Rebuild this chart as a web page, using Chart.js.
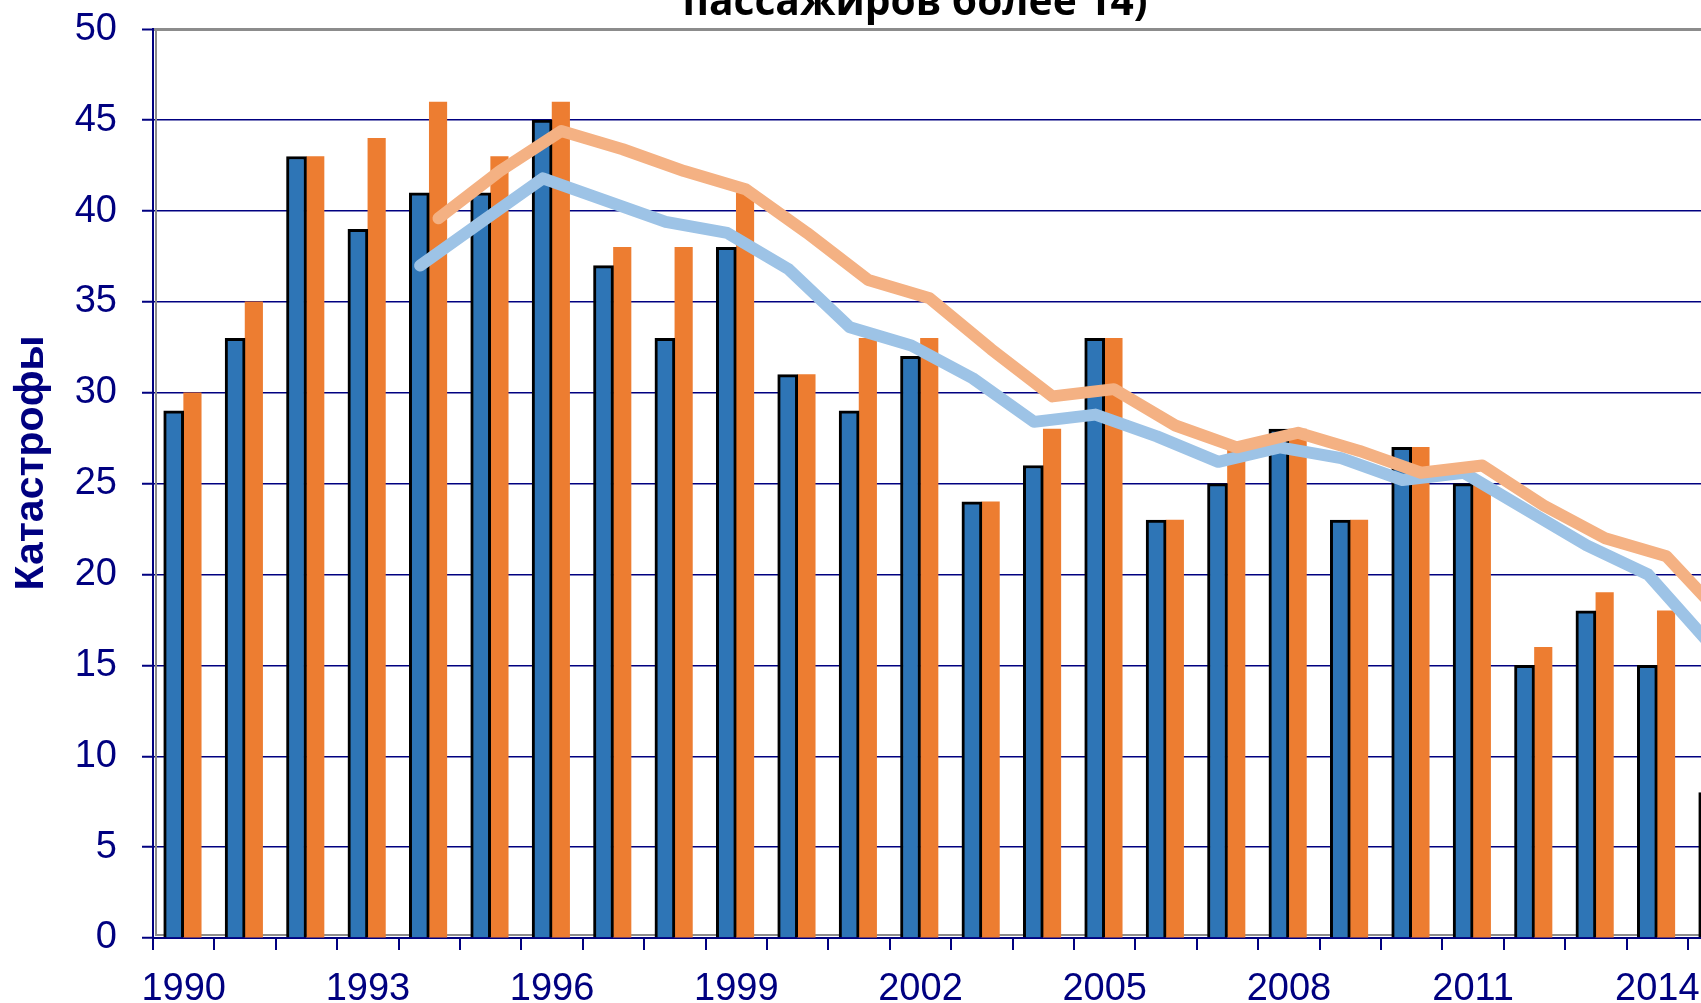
<!DOCTYPE html>
<html>
<head>
<meta charset="utf-8">
<script src="https://cdn.jsdelivr.net/npm/chart.js@4.4.1/dist/chart.umd.min.js"></script>
<style>
html,body{margin:0;padding:0;overflow:hidden;background:#ffffff;width:1701px;height:1003px;}
#wrap{position:absolute;left:0;top:0;width:1760px;height:1003px;}
</style>
</head>
<body>
<div id="wrap"><canvas id="c" width="1760" height="1003"></canvas></div>
<script>
// ---- data ----
const years = ['1990','1991','1992','1993','1994','1995','1996','1997','1998','1999','2000','2001','2002',
               '2003','2004','2005','2006','2007','2008','2009','2010','2011','2012','2013','2014','2015'];
const shownYearLabels = ['1990','1993','1996','1999','2002','2005','2008','2011','2014'];
const yTicks = [0,5,10,15,20,25,30,35,40,45,50];

const crashesBlue   = [29,33,43,39,41,41,45,37,33,38,31,29,32,24,26,33,23,25,28,23,27,25,15,18,15,8];
const crashesOrange = [30,35,43,44,46,43,46,38,38,41,31,33,33,24,28,33,23,27,28,23,27,25,16,19,18,null];

const avgBlue   = [null,null,null,null,37.0,39.4,41.8,40.6,39.4,38.8,36.8,33.6,32.6,30.8,28.4,28.8,27.6,26.2,27.0,26.4,25.2,25.6,23.6,21.6,20.0,16.2];
const avgOrange = [null,null,null,null,39.6,42.2,44.4,43.4,42.2,41.2,38.8,36.2,35.2,32.4,29.8,30.2,28.2,27.0,27.8,26.8,25.6,26.0,23.8,22.0,21.0,17.4];

const chartTitle = 'пассажиров более 14)';
const yAxisTitle = 'Катастрофы';

// ---- styles ----
const NAVY = '#000080';
const GRAY = '#8c8c8c';
const BLUE = '#2E75B6';
const ORANGE = '#ED7D31';
const LBLUE = '#9DC3E6';
const LORANGE = '#F4B183';
const SHIFT = 0.15; // line points sit on the centres of their own bars

function linePoints(vals, dir) {
  const pts = [];
  vals.forEach((v, i) => { if (v !== null) pts.push({x: i + dir * SHIFT, y: v}); });
  return pts;
}

const deco = {
  id: 'deco',
  beforeDatasetsDraw(chart) {
    const {ctx, chartArea: a} = chart;
    ctx.save();
    ctx.strokeStyle = GRAY;
    ctx.lineWidth = 2;
    ctx.beginPath();
    ctx.moveTo(a.left + 3, a.top);
    ctx.lineTo(a.left + 3, a.bottom - 3);
    ctx.lineTo(a.right, a.bottom - 3);
    ctx.stroke();
    ctx.restore();
  },
  afterDraw(chart) {
    const {ctx} = chart;
    ctx.save();
    // main title (only its last line is in view)
    let size = 40;
    ctx.font = 'bold ' + size + 'px "Open Sans", "Noto Sans", sans-serif';
    const w = ctx.measureText(chartTitle).width;
    size = size * 465 / w;
    ctx.font = 'bold ' + size.toFixed(1) + 'px "Open Sans", "Noto Sans", sans-serif';
    ctx.fillStyle = '#000000';
    ctx.textAlign = 'center';
    ctx.textBaseline = 'alphabetic';
    ctx.fillText(chartTitle, 915, 15);
    // y axis title
    ctx.translate(32, 463);
    ctx.rotate(-Math.PI / 2);
    ctx.font = 'bold 41px "Liberation Sans", Arial, sans-serif';
    ctx.fillStyle = NAVY;
    ctx.textAlign = 'center';
    ctx.textBaseline = 'middle';
    ctx.fillText(yAxisTitle, 0, 0);
    ctx.restore();
  }
};

new Chart(document.getElementById('c'), {
  type: 'bar',
  plugins: [deco],
  data: {
    labels: years,
    datasets: [
      {type: 'line', label: 'avgOrange', data: linePoints(avgOrange, 1), xAxisID: 'xl',
       borderColor: LORANGE, borderWidth: 12, pointRadius: 0, tension: 0,
       borderCapStyle: 'round', borderJoinStyle: 'round', order: 0},
      {type: 'line', label: 'avgBlue', data: linePoints(avgBlue, -1), xAxisID: 'xl',
       borderColor: LBLUE, borderWidth: 12, pointRadius: 0, tension: 0,
       borderCapStyle: 'round', borderJoinStyle: 'round', order: 1},
      {label: 'blue', data: crashesBlue, backgroundColor: BLUE, borderColor: '#000000', borderWidth: 3,
       barThickness: 20, order: 3},
      {label: 'orange', data: crashesOrange, backgroundColor: ORANGE, borderWidth: 0,
       barThickness: 17.5, order: 3}
    ]
  },
  options: {
    responsive: false,
    animation: false,
    devicePixelRatio: 1,
    layout: {padding: {top: 29.3, right: 10.6, left: 0, bottom: 0}},
    plugins: {legend: {display: false}, tooltip: {enabled: false}, title: {display: false}},
    scales: {
      x: {
        type: 'category',
        offset: true,
        grid: {display: true, drawOnChartArea: false, drawTicks: true, tickLength: 12, color: NAVY, lineWidth: 2, offset: true},
        border: {display: true, color: NAVY, width: 2},
        ticks: {
          autoSkip: false, maxRotation: 0, minRotation: 0, padding: 17, color: NAVY,
          font: {family: '"Liberation Sans", Arial, sans-serif', size: 38},
          callback: function(v, i) { const l = years[i]; return shownYearLabels.includes(l) ? l : ''; }
        },
        afterFit(s) { s.height = 65; }
      },
      xl: {type: 'linear', display: false, min: -0.5, max: years.length - 0.5, offset: false},
      y: {
        min: 0, max: 50,
        afterBuildTicks(s) { s.ticks = yTicks.map(v => ({value: v})); },
        ticks: {padding: 25, color: NAVY, font: {family: '"Liberation Sans", Arial, sans-serif', size: 38}},
        grid: {
          color: c => (c.tick && c.tick.value === 50) ? GRAY : NAVY,
          lineWidth: c => (c.tick && c.tick.value === 50) ? 3 : 1.5,
          tickColor: NAVY, tickLength: 11, tickWidth: 2
        },
        border: {display: true, color: NAVY, width: 2},
        afterFit(s) { s.width = 153; s.paddingTop = 20; s.paddingBottom = 20; }
      }
    }
  }
});
</script>
</body>
</html>
